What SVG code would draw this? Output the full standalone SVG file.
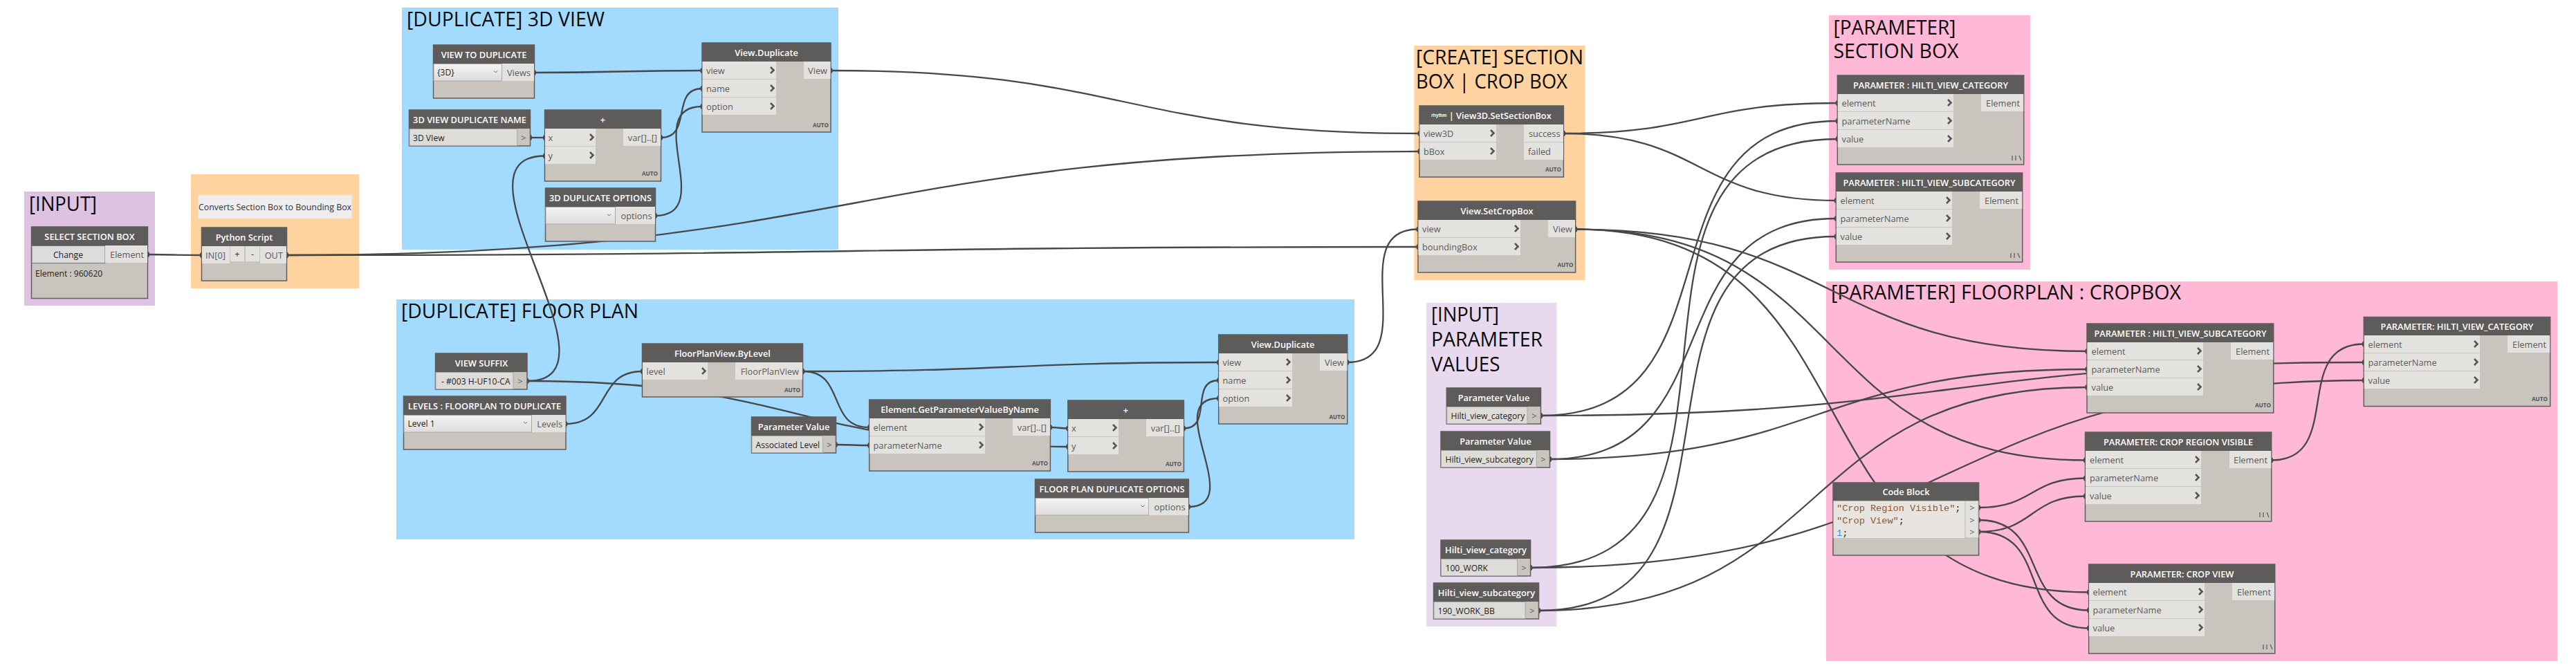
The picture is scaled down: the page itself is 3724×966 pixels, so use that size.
<svg xmlns="http://www.w3.org/2000/svg" width="3724" height="966" viewBox="0 0 3724 966">
<style>
text{font-family:"Open Sans","Noto Sans","Liberation Sans",sans-serif}
.gt{font-size:30px;fill:#0a0a0a}
.nb{fill:#c9c5be;stroke:#5f5e5c;stroke-width:1.5}
.nh{fill:#5e5c5a}
.tt{font-size:12.8px;font-weight:600;fill:#fff;text-anchor:middle}
.pr{fill:#e3e2de}
.pl{font-size:12.8px;fill:#5a5a5a}
.pe{font-size:12.8px;fill:#5a5a5a;text-anchor:end}
.pm{font-size:12.8px;fill:#5a5a5a;text-anchor:middle}
.au{font-size:8.2px;font-weight:700;fill:#555;text-anchor:end}
.dd{fill:url(#ddg);stroke:#aaa8a4;stroke-width:1}
.ib{fill:#dedcd8;stroke:#aaa8a4;stroke-width:1}
.vt{font-size:12.1px;fill:#1c1c1c}
.cn{fill:none;stroke:#474747;stroke-width:2.3;marker-start:url(#knob);marker-end:url(#knob)}
.cd{font-family:"Liberation Mono",monospace;font-size:13.6px}
</style>
<defs>
<linearGradient id="ddg" x1="0" y1="0" x2="0" y2="1"><stop offset="0" stop-color="#f4f4f4"/><stop offset="1" stop-color="#dcdcdc"/></linearGradient>
<marker id="knob" markerUnits="userSpaceOnUse" markerWidth="8" markerHeight="10" refX="4" refY="5"><ellipse cx="4" cy="5" rx="2.6" ry="4" fill="#474747"/></marker>
<path id="ch" d="M-3-4.5L1.500 0L-3 4.5" fill="none" stroke="#555" stroke-width="2.6"/>
<path id="ca" d="M-2.500-1.500L0 1L2.500-1.500" fill="none" stroke="#666" stroke-width="1"/>
<path id="la" d="M-12-6V1M-7-6V1M-2-6L1 1" fill="none" stroke="#666" stroke-width="1.4"/>
</defs>

<g id="panels">
<rect x="35" y="277" width="189" height="165" fill="#ddc3e1"/>
<text class="gt" x="42" y="305" textLength="98" lengthAdjust="spacingAndGlyphs">[INPUT]</text>
<rect x="276" y="252" width="243" height="165" fill="#fed3a0"/>
<rect x="581" y="11" width="631" height="350" fill="#a3daff"/>
<text class="gt" x="588" y="38" textLength="286" lengthAdjust="spacingAndGlyphs">[DUPLICATE] 3D VIEW</text>
<rect x="573" y="433" width="1385" height="347" fill="#a3daff"/>
<text class="gt" x="580" y="460" textLength="343" lengthAdjust="spacingAndGlyphs">[DUPLICATE] FLOOR PLAN</text>
<rect x="2044.500" y="66" width="247" height="339" fill="#fed3a0"/>
<text class="gt" x="2047" y="93" textLength="242" lengthAdjust="spacingAndGlyphs">[CREATE] SECTION</text>
<text class="gt" x="2047" y="128" textLength="219" lengthAdjust="spacingAndGlyphs">BOX | CROP BOX</text>
<rect x="2062" y="438" width="188.500" height="468" fill="#e9d9ee"/>
<text class="gt" x="2069" y="465" textLength="98" lengthAdjust="spacingAndGlyphs">[INPUT]</text>
<text class="gt" x="2069" y="501" textLength="161" lengthAdjust="spacingAndGlyphs">PARAMETER</text>
<text class="gt" x="2069" y="537" textLength="99.500" lengthAdjust="spacingAndGlyphs">VALUES</text>
<rect x="2644" y="22" width="291" height="368" fill="#ffb8d5"/>
<text class="gt" x="2650.500" y="50" textLength="177" lengthAdjust="spacingAndGlyphs">[PARAMETER]</text>
<text class="gt" x="2650.500" y="84" textLength="181" lengthAdjust="spacingAndGlyphs">SECTION BOX</text>
<rect x="2640" y="407" width="1057" height="549" fill="#ffb8d5"/>
<text class="gt" x="2647" y="433" textLength="506" lengthAdjust="spacingAndGlyphs">[PARAMETER] FLOORPLAN : CROPBOX</text>
</g>

<g id="connectors">
<path class="cn" d="M213.600 368C252 368 252 369 291.400 369"/>
<path class="cn" d="M414.600 369C1236.600 369 1230 219 2052 219"/>
<path class="cn" d="M414.600 369C1232.600 369 1232 357 2050 357"/>
<path class="cn" d="M772.400 105C893 105 894 102 1015 102"/>
<path class="cn" d="M766.500 199C777 199 777 199 787.600 199"/>
<path class="cn" d="M762 551C912 551 637.600 225.500 787.600 225.500"/>
<path class="cn" d="M955.500 199C1001.500 199 969 128 1015 128"/>
<path class="cn" d="M947.500 312C1037.500 312 925 154 1015 154"/>
<path class="cn" d="M1201 102C1629 102 1624 193 2052 193"/>
<path class="cn" d="M762 551C1156 551 1150 646 1543.800 646"/>
<path class="cn" d="M817.800 613C885 613 861 537 928.500 537"/>
<path class="cn" d="M1160.600 537C1461 537 1461 524 1761.700 524"/>
<path class="cn" d="M1160.600 537C1224 537 1194 618 1256.700 618"/>
<path class="cn" d="M1208.400 643C1232 643 1232 644 1256.700 644"/>
<path class="cn" d="M1518.400 618C1531 618 1531 619.500 1543.800 619.500"/>
<path class="cn" d="M1711.400 619.500C1754 619.500 1719 550 1761.700 550"/>
<path class="cn" d="M1718.400 733C1803 733 1677 576 1761.700 576"/>
<path class="cn" d="M1947.800 524C2057 524 1941 331.500 2050 331.500"/>
<path class="cn" d="M2260.400 193C2459 193 2457 149 2656.300 149"/>
<path class="cn" d="M2260.400 193C2463 193 2451 290 2654.300 290"/>
<path class="cn" d="M2277.600 331.500C2658 331.500 2637 508 3017 508"/>
<path class="cn" d="M2277.600 331.500C2682 331.500 2610 665.500 3014.500 665.500"/>
<path class="cn" d="M2277.600 331.500C2732.600 331.500 2565 856.500 3019.600 856.500"/>
<path class="cn" d="M2227.500 601C2529.500 601 2354 175 2656.300 175"/>
<path class="cn" d="M2227.500 601C2823.500 601 2821 524 3417.300 524"/>
<path class="cn" d="M2240.500 664C2510.500 664 2384 316 2654.300 316"/>
<path class="cn" d="M2240.500 664C2634.500 664 2623 534 3017 534"/>
<path class="cn" d="M2212.600 821C2593.600 821 2275 201 2656.300 201"/>
<path class="cn" d="M2212.600 821C2829.600 821 2800 550 3417.300 550"/>
<path class="cn" d="M2224.500 883C2569.500 883 2309 342 2654.300 342"/>
<path class="cn" d="M2224.500 883C2652.500 883 2589 560 3017 560"/>
<path class="cn" d="M2860.600 734C2940.600 734 2934.500 691.500 3014.500 691.500"/>
<path class="cn" d="M2860.600 769C2941.600 769 2933.500 717.500 3014.500 717.500"/>
<path class="cn" d="M2860.600 752C2963.600 752 2916.600 882.500 3019.600 882.500"/>
<path class="cn" d="M2860.600 769C2966.600 769 2913.600 908.500 3019.600 908.500"/>
<path class="cn" d="M3283.700 665.500C3390.700 665.500 3310.300 497.500 3417.300 497.500"/>
</g>

<g id="note-bbox">
<rect x="286.500" y="282" width="222.500" height="34" fill="#eeeeee" stroke="#f0ddc4" stroke-width="1"/>
<text x="397.500" y="303.500" font-size="12.400" fill="#333" text-anchor="middle">Converts Section Box to Bounding Box</text>
</g>

<g id="node-select-section-box">
<rect class="nb" x="45.500" y="328" width="168" height="103.500"/><rect class="nh" x="45.500" y="328" width="168" height="27"/>
<text class="tt" x="129.500" y="346.500">SELECT SECTION BOX</text>
<rect x="46" y="355.500" width="106" height="25" fill="#dcdcdc" stroke="#777" stroke-width="1"/>
<text x="98.500" y="373" font-size="12.300" fill="#222" text-anchor="middle">Change</text>
<rect class="pr" x="152" y="355" width="61" height="25"/><text class="pe" x="208" y="373">Element</text>
<text class="vt" x="51" y="400">Element : 960620</text>
</g>
<g id="node-python-script">
<rect class="nb" x="291.500" y="329" width="123" height="77"/><rect class="nh" x="291.500" y="329" width="123" height="27"/>
<text class="tt" x="353" y="347.500">Python Script</text>
<rect class="pr" x="292" y="356" width="40" height="25"/><text class="pl" x="297" y="374">IN[0]</text>
<rect class="pr" x="333" y="356" width="20" height="22"/><text class="pm" x="343" y="372" style="fill:#333">+</text>
<rect class="pr" x="355" y="356" width="20" height="22"/><text class="pm" x="365" y="372" style="fill:#333">-</text>
<rect class="pr" x="376" y="356" width="38" height="25"/><text class="pe" x="409" y="374">OUT</text>
</g>

<g id="node-view-to-duplicate">
<rect class="nb" x="626.500" y="65" width="146" height="77"/><rect class="nh" x="626.500" y="65" width="146" height="27"/>
<text class="tt" x="699.500" y="83.500">VIEW TO DUPLICATE</text>
<rect class="dd" x="627" y="92.500" width="98.500" height="24.500"/><text class="vt" x="632" y="109">{3D}</text><use href="#ca" x="716.500" y="104"/>
<rect class="pr" x="726" y="92" width="46" height="25"/><text class="pe" x="767" y="110">Views</text>
</g>
<g id="node-3d-view-duplicate-name">
<rect class="nb" x="591.500" y="159" width="175" height="52"/><rect class="nh" x="591.500" y="159" width="175" height="27"/>
<text class="tt" x="679" y="177.500">3D VIEW DUPLICATE NAME</text>
<rect class="ib" x="592" y="186.500" width="155.500" height="24"/><text class="vt" x="597" y="203.500">3D VIew</text>
<text class="pm" x="757" y="203.500">&gt;</text>
</g>
<g id="node-add-3d">
<rect class="nb" x="787.500" y="159" width="168" height="103"/><rect class="nh" x="787.500" y="159" width="168" height="27"/>
<text class="tt" x="871.500" y="177.500">+</text>
<rect class="pr" x="788" y="186" width="73" height="25"/><text class="pl" x="792.500" y="204">x</text><use href="#ch" x="856" y="198.500"/>
<rect class="pr" x="788" y="212" width="73" height="25"/><text class="pl" x="792.500" y="230">y</text><use href="#ch" x="856" y="224.500"/>
<rect class="pr" x="901" y="186" width="54" height="25"/><text class="pe" x="950" y="204">var[]..[]</text>
<text class="au" x="951" y="254">AUTO</text>
</g>
<g id="node-3d-duplicate-options">
<rect class="nb" x="788.500" y="272" width="159" height="77"/><rect class="nh" x="788.500" y="272" width="159" height="27"/>
<text class="tt" x="868" y="290.500">3D DUPLICATE OPTIONS</text>
<rect class="dd" x="789" y="299.500" width="100.500" height="24.500"/><use href="#ca" x="880.500" y="311"/>
<rect class="pr" x="890" y="299" width="57" height="25"/><text class="pe" x="942.500" y="317">options</text>
</g>
<g id="node-view-duplicate-3d">
<rect class="nb" x="1015" y="62" width="186" height="129"/><rect class="nh" x="1015" y="62" width="186" height="27"/>
<text class="tt" x="1108" y="80.500">View.Duplicate</text>
<rect class="pr" x="1015.500" y="89" width="106.500" height="25"/><text class="pl" x="1021" y="107">view</text><use href="#ch" x="1117" y="101.500"/>
<rect class="pr" x="1015.500" y="115" width="106.500" height="25"/><text class="pl" x="1021" y="133">name</text><use href="#ch" x="1117" y="127.500"/>
<rect class="pr" x="1015.500" y="141" width="106.500" height="25"/><text class="pl" x="1021" y="159">option</text><use href="#ch" x="1117" y="153.500"/>
<rect class="pr" x="1162" y="89" width="38.500" height="25"/><text class="pe" x="1196" y="107">View</text>
<text class="au" x="1198" y="184">AUTO</text>
</g>

<g id="node-view-suffix">
<rect class="nb" x="629.500" y="511" width="132.500" height="52"/><rect class="nh" x="629.500" y="511" width="132.500" height="27"/>
<text class="tt" x="696" y="529.500">VIEW SUFFIX</text>
<rect class="ib" x="630" y="538.500" width="112" height="24"/><text class="vt" x="638" y="555.500">- #003 H-UF10-CA</text>
<text class="pm" x="752" y="555.500">&gt;</text>
</g>
<g id="node-levels">
<rect class="nb" x="583.500" y="573" width="234.500" height="77"/><rect class="nh" x="583.500" y="573" width="234.500" height="27"/>
<text class="tt" x="700.500" y="591.500">LEVELS : FLOORPLAN TO DUPLICATE</text>
<rect class="dd" x="584" y="600.500" width="184.500" height="24.500"/><text class="vt" x="589.500" y="617">Level 1</text><use href="#ca" x="759.500" y="611.500"/>
<rect class="pr" x="769" y="600" width="48.500" height="25"/><text class="pe" x="813" y="618">Levels</text>
</g>
<g id="node-floorplanview-bylevel">
<rect class="nb" x="928.500" y="497" width="232" height="77"/><rect class="nh" x="928.500" y="497" width="232" height="27"/>
<text class="tt" x="1044.500" y="515.500">FloorPlanView.ByLevel</text>
<rect class="pr" x="929" y="524" width="94" height="25"/><text class="pl" x="934.500" y="542">level</text><use href="#ch" x="1018" y="536.500"/>
<rect class="pr" x="1063" y="524" width="97" height="25"/><text class="pe" x="1155" y="542">FloorPlanView</text>
<text class="au" x="1157" y="567">AUTO</text>
</g>
<g id="node-parameter-value-level">
<rect class="nb" x="1086.500" y="603" width="122" height="52"/><rect class="nh" x="1086.500" y="603" width="122" height="27"/>
<text class="tt" x="1147.500" y="621.500">Parameter Value</text>
<rect class="ib" x="1087" y="630.500" width="102.500" height="24"/><text class="vt" x="1092.500" y="647.500">Associated Level</text>
<text class="pm" x="1199" y="647.500">&gt;</text>
</g>
<g id="node-get-parameter">
<rect class="nb" x="1256.700" y="578" width="261.700" height="103"/><rect class="nh" x="1256.700" y="578" width="261.700" height="27"/>
<text class="tt" x="1387.500" y="596.500">Element.GetParameterValueByName</text>
<rect class="pr" x="1257.200" y="605" width="166.800" height="25"/><text class="pl" x="1262.500" y="623">element</text><use href="#ch" x="1419" y="617.500"/>
<rect class="pr" x="1257.200" y="631" width="166.800" height="25"/><text class="pl" x="1262.500" y="649">parameterName</text><use href="#ch" x="1419" y="643.500"/>
<rect class="pr" x="1464" y="605" width="54" height="25"/><text class="pe" x="1513" y="623">var[]..[]</text>
<text class="au" x="1515" y="673">AUTO</text>
</g>
<g id="node-add-floor">
<rect class="nb" x="1543.800" y="579" width="167.600" height="103"/><rect class="nh" x="1543.800" y="579" width="167.600" height="27"/>
<text class="tt" x="1627.500" y="597.500">+</text>
<rect class="pr" x="1544.300" y="606" width="72.700" height="25"/><text class="pl" x="1549" y="624">x</text><use href="#ch" x="1612" y="618.500"/>
<rect class="pr" x="1544.300" y="632" width="72.700" height="25"/><text class="pl" x="1549" y="650">y</text><use href="#ch" x="1612" y="644.500"/>
<rect class="pr" x="1657" y="606" width="54" height="25"/><text class="pe" x="1706" y="624">var[]..[]</text>
<text class="au" x="1708" y="674">AUTO</text>
</g>
<g id="node-floor-plan-duplicate-options">
<rect class="nb" x="1496.500" y="693" width="221.900" height="77"/><rect class="nh" x="1496.500" y="693" width="221.900" height="27"/>
<text class="tt" x="1607.500" y="711.500">FLOOR PLAN DUPLICATE OPTIONS</text>
<rect class="dd" x="1497" y="720.500" width="163.700" height="24.500"/><use href="#ca" x="1652" y="732"/>
<rect class="pr" x="1661" y="720" width="57" height="25"/><text class="pe" x="1713.500" y="738">options</text>
</g>
<g id="node-view-duplicate-floor">
<rect class="nb" x="1761.700" y="484" width="186.100" height="129"/><rect class="nh" x="1761.700" y="484" width="186.100" height="27"/>
<text class="tt" x="1854.500" y="502.500">View.Duplicate</text>
<rect class="pr" x="1762.200" y="511" width="105.800" height="25"/><text class="pl" x="1767.500" y="529">view</text><use href="#ch" x="1863" y="523.500"/>
<rect class="pr" x="1762.200" y="537" width="105.800" height="25"/><text class="pl" x="1767.500" y="555">name</text><use href="#ch" x="1863" y="549.500"/>
<rect class="pr" x="1762.200" y="563" width="105.800" height="25"/><text class="pl" x="1767.500" y="581">option</text><use href="#ch" x="1863" y="575.500"/>
<rect class="pr" x="1908" y="511" width="39.500" height="25"/><text class="pe" x="1943" y="529">View</text>
<text class="au" x="1944.500" y="606">AUTO</text>
</g>

<g id="node-set-section-box">
<rect class="nb" x="2052" y="153" width="208.400" height="103"/><rect class="nh" x="2052" y="153" width="208.400" height="27"/>
<text class="tt" x="2156" y="171.500"><tspan font-size="6.500" font-weight="700" font-family="Liberation Sans" dy="-3">rhythm</tspan><tspan dy="3"> | View3D.SetSectionBox</tspan></text>
<rect class="pr" x="2052.500" y="180" width="110.500" height="25"/><text class="pl" x="2058" y="198">view3D</text><use href="#ch" x="2158" y="192.500"/>
<rect class="pr" x="2052.500" y="206" width="110.500" height="25"/><text class="pl" x="2058" y="224">bBox</text><use href="#ch" x="2158" y="218.500"/>
<rect class="pr" x="2203" y="180" width="57" height="25"/><text class="pe" x="2255.500" y="198">success</text>
<rect class="pr" x="2203" y="206" width="57" height="25"/><text class="pl" x="2209" y="224">failed</text>
<text class="au" x="2257" y="248">AUTO</text>
</g>
<g id="node-set-crop-box">
<rect class="nb" x="2050" y="291" width="227.600" height="103"/><rect class="nh" x="2050" y="291" width="227.600" height="27"/>
<text class="tt" x="2164" y="309.500">View.SetCropBox</text>
<rect class="pr" x="2050.500" y="318" width="147.500" height="25"/><text class="pl" x="2056" y="336">view</text><use href="#ch" x="2193" y="330.500"/>
<rect class="pr" x="2050.500" y="344" width="147.500" height="25"/><text class="pl" x="2056" y="362">boundingBox</text><use href="#ch" x="2193" y="356.500"/>
<rect class="pr" x="2238" y="318" width="39" height="25"/><text class="pe" x="2273" y="336">View</text>
<text class="au" x="2274.500" y="386">AUTO</text>
</g>

<g id="node-pv-category">
<rect class="nb" x="2091.300" y="561" width="136.200" height="52"/><rect class="nh" x="2091.300" y="561" width="136.200" height="27"/>
<text class="tt" x="2159.500" y="579.500">Parameter Value</text>
<rect class="ib" x="2091.800" y="588.500" width="116.200" height="24"/><text class="vt" x="2097.500" y="605.500">Hilti_view_category</text>
<text class="pm" x="2218" y="605.500">&gt;</text>
</g>
<g id="node-pv-subcategory">
<rect class="nb" x="2083" y="624" width="157.500" height="52"/><rect class="nh" x="2083" y="624" width="157.500" height="27"/>
<text class="tt" x="2162" y="642.500">Parameter Value</text>
<rect class="ib" x="2083.500" y="651.500" width="137.900" height="24"/><text class="vt" x="2089.500" y="668.500">Hilti_view_subcategory</text>
<text class="pm" x="2231" y="668.500">&gt;</text>
</g>
<g id="node-hilti-category">
<rect class="nb" x="2083" y="781" width="129.600" height="52"/><rect class="nh" x="2083" y="781" width="129.600" height="27"/>
<text class="tt" x="2148" y="799.500">Hilti_view_category</text>
<rect class="ib" x="2083.500" y="808.500" width="110" height="24"/><text class="vt" x="2089.500" y="825.500">100_WORK</text>
<text class="pm" x="2203" y="825.500">&gt;</text>
</g>
<g id="node-hilti-subcategory">
<rect class="nb" x="2072.500" y="843" width="152" height="52"/><rect class="nh" x="2072.500" y="843" width="152" height="27"/>
<text class="tt" x="2149" y="861.500">Hilti_view_subcategory</text>
<rect class="ib" x="2073" y="870.500" width="132" height="24"/><text class="vt" x="2078.500" y="887.500">190_WORK_BB</text>
<text class="pm" x="2215" y="887.500">&gt;</text>
</g>

<g id="node-parameter-category-section">
<rect class="nb" x="2656.300" y="109" width="269.400" height="129"/><rect class="nh" x="2656.300" y="109" width="269.400" height="27"/>
<text class="tt" x="2791" y="127.500">PARAMETER : HILTI_VIEW_CATEGORY</text>
<rect class="pr" x="2656.800" y="136" width="167.200" height="25"/><text class="pl" x="2662.500" y="154">element</text><use href="#ch" x="2819" y="148.500"/>
<rect class="pr" x="2656.800" y="162" width="167.200" height="25"/><text class="pl" x="2662.500" y="180">parameterName</text><use href="#ch" x="2819" y="174.500"/>
<rect class="pr" x="2656.800" y="188" width="167.200" height="25"/><text class="pl" x="2662.500" y="206">value</text><use href="#ch" x="2819" y="200.500"/>
<rect class="pr" x="2864" y="136" width="61.200" height="25"/><text class="pe" x="2920" y="154">Element</text>
<use href="#la" x="2921" y="231"/>
</g>
<g id="node-parameter-subcategory-section">
<rect class="nb" x="2654.300" y="250" width="269.400" height="129"/><rect class="nh" x="2654.300" y="250" width="269.400" height="27"/>
<text class="tt" x="2789" y="268.500">PARAMETER : HILTI_VIEW_SUBCATEGORY</text>
<rect class="pr" x="2654.800" y="277" width="167.200" height="25"/><text class="pl" x="2660.500" y="295">element</text><use href="#ch" x="2817" y="289.500"/>
<rect class="pr" x="2654.800" y="303" width="167.200" height="25"/><text class="pl" x="2660.500" y="321">parameterName</text><use href="#ch" x="2817" y="315.500"/>
<rect class="pr" x="2654.800" y="329" width="167.200" height="25"/><text class="pl" x="2660.500" y="347">value</text><use href="#ch" x="2817" y="341.500"/>
<rect class="pr" x="2862" y="277" width="61.200" height="25"/><text class="pe" x="2918" y="295">Element</text>
<use href="#la" x="2919" y="372"/>
</g>

<g id="node-parameter-subcategory-crop">
<rect class="nb" x="3017" y="468" width="269.700" height="129"/><rect class="nh" x="3017" y="468" width="269.700" height="27"/>
<text class="tt" x="3152" y="486.500">PARAMETER : HILTI_VIEW_SUBCATEGORY</text>
<rect class="pr" x="3017.500" y="495" width="167.500" height="25"/><text class="pl" x="3023.500" y="513">element</text><use href="#ch" x="3180" y="507.500"/>
<rect class="pr" x="3017.500" y="521" width="167.500" height="25"/><text class="pl" x="3023.500" y="539">parameterName</text><use href="#ch" x="3180" y="533.500"/>
<rect class="pr" x="3017.500" y="547" width="167.500" height="25"/><text class="pl" x="3023.500" y="565">value</text><use href="#ch" x="3180" y="559.500"/>
<rect class="pr" x="3225" y="495" width="61.200" height="25"/><text class="pe" x="3281" y="513">Element</text>
<text class="au" x="3283" y="589">AUTO</text>
</g>
<g id="node-parameter-crop-region">
<rect class="nb" x="3014.500" y="625" width="269.200" height="129"/><rect class="nh" x="3014.500" y="625" width="269.200" height="27"/>
<text class="tt" x="3149" y="643.500">PARAMETER: CROP REGION VISIBLE</text>
<rect class="pr" x="3015" y="652" width="167" height="25"/><text class="pl" x="3021" y="670">element</text><use href="#ch" x="3177" y="664.500"/>
<rect class="pr" x="3015" y="678" width="167" height="25"/><text class="pl" x="3021" y="696">parameterName</text><use href="#ch" x="3177" y="690.500"/>
<rect class="pr" x="3015" y="704" width="167" height="25"/><text class="pl" x="3021" y="722">value</text><use href="#ch" x="3177" y="716.500"/>
<rect class="pr" x="3223" y="652" width="60.200" height="25"/><text class="pe" x="3278" y="670">Element</text>
<use href="#la" x="3279" y="747"/>
</g>
<g id="node-code-block">
<rect class="nb" x="2650" y="698" width="210.600" height="105"/><rect class="nh" x="2650" y="698" width="210.600" height="26.500"/>
<text class="tt" x="2755.500" y="716">Code Block</text>
<rect x="2650.500" y="724.500" width="190.500" height="53.500" fill="#e8e5e1"/>
<rect x="2841" y="724.500" width="19" height="53.500" fill="#e3e2de" stroke="#b9b6b0" stroke-width="1"/>
<text class="cd" x="2655" y="739" fill="#8a5a32">"Crop Region Visible"<tspan fill="#222">;</tspan></text>
<text class="cd" x="2655" y="757" fill="#8a5a32">"Crop View"<tspan fill="#222">;</tspan></text>
<text class="cd" x="2655" y="774.500" fill="#2f8fff">1<tspan fill="#222">;</tspan></text>
<text class="pm" x="2851" y="739">&gt;</text><text class="pm" x="2851" y="756.500">&gt;</text><text class="pm" x="2851" y="774">&gt;</text>
</g>
<g id="node-parameter-crop-view">
<rect class="nb" x="3019.600" y="816" width="269.100" height="129"/><rect class="nh" x="3019.600" y="816" width="269.100" height="27"/>
<text class="tt" x="3154.500" y="834.500">PARAMETER: CROP VIEW</text>
<rect class="pr" x="3020.100" y="843" width="166.900" height="25"/><text class="pl" x="3025.500" y="861">element</text><use href="#ch" x="3182" y="855.500"/>
<rect class="pr" x="3020.100" y="869" width="166.900" height="25"/><text class="pl" x="3025.500" y="887">parameterName</text><use href="#ch" x="3182" y="881.500"/>
<rect class="pr" x="3020.100" y="895" width="166.900" height="25"/><text class="pl" x="3025.500" y="913">value</text><use href="#ch" x="3182" y="907.500"/>
<rect class="pr" x="3227" y="843" width="61.200" height="25"/><text class="pe" x="3283" y="861">Element</text>
<use href="#la" x="3284" y="938"/>
</g>
<g id="node-parameter-category-crop">
<rect class="nb" x="3417.300" y="458.500" width="269.400" height="129"/><rect class="nh" x="3417.300" y="458.500" width="269.400" height="26.500"/>
<text class="tt" x="3552" y="477">PARAMETER: HILTI_VIEW_CATEGORY</text>
<rect class="pr" x="3417.800" y="485" width="167.200" height="25"/><text class="pl" x="3423.500" y="503">element</text><use href="#ch" x="3580" y="497.500"/>
<rect class="pr" x="3417.800" y="511" width="167.200" height="25"/><text class="pl" x="3423.500" y="529">parameterName</text><use href="#ch" x="3580" y="523.500"/>
<rect class="pr" x="3417.800" y="537" width="167.200" height="25"/><text class="pl" x="3423.500" y="555">value</text><use href="#ch" x="3580" y="549.500"/>
<rect class="pr" x="3625" y="485" width="61.200" height="25"/><text class="pe" x="3681" y="503">Element</text>
<text class="au" x="3683" y="580">AUTO</text>
</g>
</svg>
